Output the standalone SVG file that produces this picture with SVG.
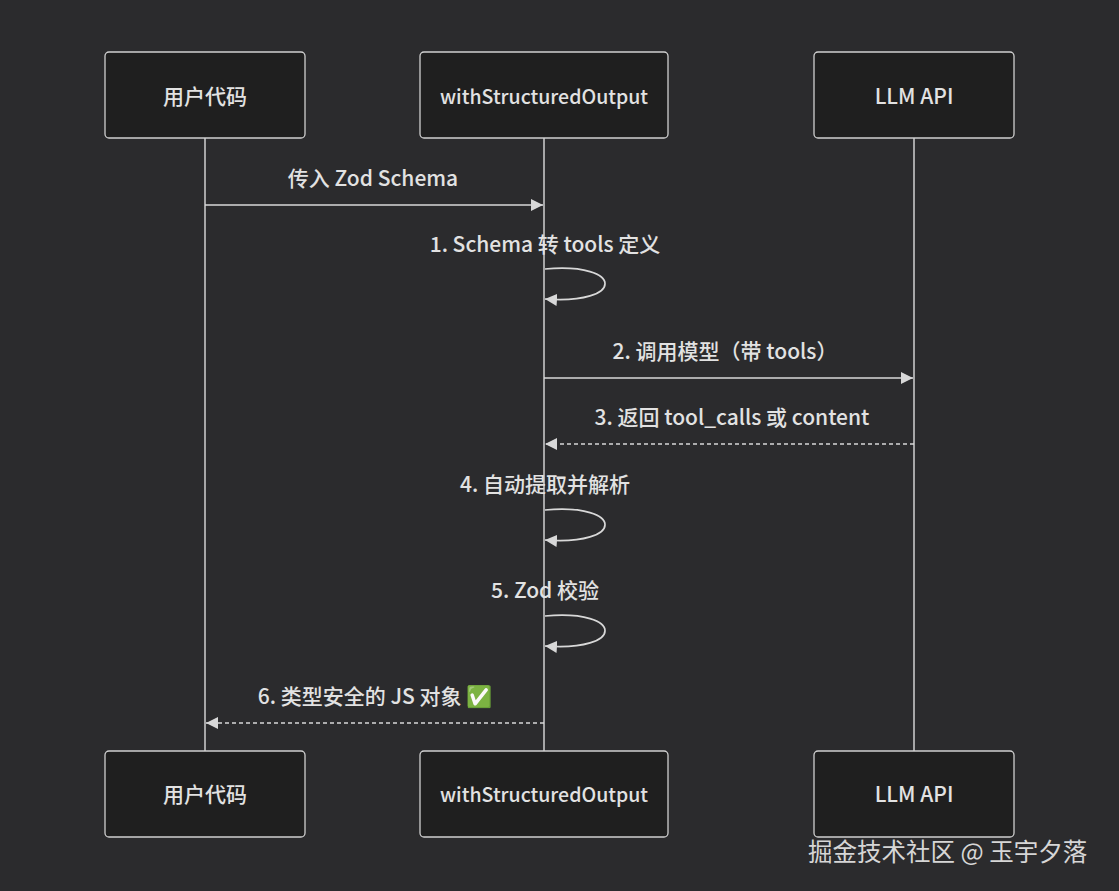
<svg xmlns="http://www.w3.org/2000/svg" width="1119" height="891" viewBox="0 0 1119 891">
<style>
.bg{fill:#2b2b2d}
.actor rect{fill:#1f1f1f;stroke:#cfcfcf;stroke-width:1.3}
.actor text{fill:#e2e2e2;font-family:"Noto Sans CJK SC",sans-serif;font-size:21px;font-weight:500;text-anchor:middle}
.actor text.long{font-size:19.5px}
.life{stroke:#d0d0d0;stroke-width:1.5;fill:none}
.msg{stroke:#d8d8d8;stroke-width:1.7;fill:none}
.dash{stroke-dasharray:4,3}
.lbl{fill:#e2e2e2;font-family:"Noto Sans CJK SC",sans-serif;font-size:21px;font-weight:500;text-anchor:middle}
.wm{fill:#d6d6d6;font-family:"Noto Sans CJK SC",sans-serif;font-size:24.5px}
</style>
<defs>
<marker id="ah" viewBox="0 0 12 12" refX="12" refY="6" markerWidth="12" markerHeight="12" markerUnits="userSpaceOnUse" orient="auto">
<path d="M0,0 L12,6 L0,12 z" fill="#d8d8d8"/>
</marker>
</defs>
<rect class="bg" x="0" y="0" width="1119" height="891"/>
<g id="lifelines">
<line class="life" x1="205" y1="138" x2="205" y2="751"/>
<line class="life" x1="544" y1="138" x2="544" y2="751"/>
<line class="life" x1="914" y1="138" x2="914" y2="751"/>
</g>
<g id="actor-user-top" class="actor"><rect x="105" y="52" width="200" height="86" rx="4"/><text x="205" y="104">用户代码</text></g>
<g id="actor-wso-top" class="actor"><rect x="420" y="52" width="248" height="86" rx="4"/><text class="long" x="544" y="103.5">withStructuredOutput</text></g>
<g id="actor-llm-top" class="actor"><rect x="814" y="52" width="200" height="86" rx="4"/><text x="914" y="104">LLM API</text></g>
<g id="actor-user-bottom" class="actor"><rect x="105" y="751" width="200" height="86" rx="4"/><text x="205" y="802">用户代码</text></g>
<g id="actor-wso-bottom" class="actor"><rect x="420" y="751" width="248" height="86" rx="4"/><text class="long" x="544" y="801.5">withStructuredOutput</text></g>
<g id="actor-llm-bottom" class="actor"><rect x="814" y="751" width="200" height="86" rx="4"/><text x="914" y="802">LLM API</text></g>
<g id="connectors">
<line class="msg" x1="205" y1="205" x2="543" y2="205" marker-end="url(#ah)"/>
<path class="msg" d="M545,269 C625,262 625,305 545,299" marker-end="url(#ah)"/>
<line class="msg" x1="544" y1="378" x2="913" y2="378" marker-end="url(#ah)"/>
<line class="msg dash" x1="914" y1="444" x2="545" y2="444" marker-end="url(#ah)"/>
<path class="msg" d="M545,510 C625,503 625,546 545,540" marker-end="url(#ah)"/>
<path class="msg" d="M545,616 C625,609 625,652 545,646" marker-end="url(#ah)"/>
<line class="msg dash" x1="544" y1="723" x2="206" y2="723" marker-end="url(#ah)"/>
</g>
<g id="labels">
<text class="lbl" x="373" y="186">传入 Zod Schema</text>
<text class="lbl" x="545" y="252">1. Schema 转 tools 定义</text>
<text class="lbl" x="725" y="359">2. 调用模型（带 tools）</text>
<text class="lbl" x="732" y="425">3. 返回 tool_calls 或 content</text>
<text class="lbl" x="545" y="492">4. 自动提取并解析</text>
<text class="lbl" x="545" y="598">5. Zod 校验</text>
<text class="lbl" x="375" y="704">6. 类型安全的 JS 对象 <tspan fill="#3cba54">✅</tspan></text>
</g>
<text class="wm" x="808" y="861">掘金技术社区 @ 玉宇夕落</text>
</svg>
